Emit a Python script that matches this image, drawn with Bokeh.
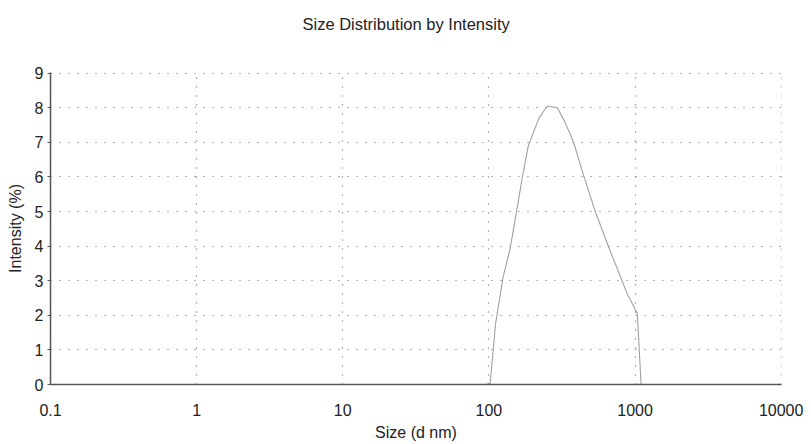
from bokeh.plotting import figure
from bokeh.models import FixedTicker, PrintfTickFormatter, Range1d, Title
from bokeh.embed import file_html
from bokeh.resources import INLINE

# Size distribution by intensity (DLS)
size_nm = [0.1, 1, 10, 50, 95, 102, 111, 125, 140, 156, 169, 186, 220, 251,
           294, 330, 378, 442, 534, 676, 885, 1036, 1100, 2000, 5000, 10000]
intensity_pct = [0, 0, 0, 0, 0, 0.03, 1.75, 3.1, 3.95, 5.1, 5.97, 6.9, 7.7, 8.05,
                 8.0, 7.6, 7.03, 6.08, 5.0, 3.86, 2.62, 2.05, 0, 0, 0, 0]

x_ticks = [0.1, 1, 10, 100, 1000, 10000]
y_ticks = [0, 1, 2, 3, 4, 5, 6, 7, 8, 9]

TITLE = "Size Distribution by Intensity"
FONT = "Liberation Sans"
TEXT_COLOR = "#222222"

p = figure(width=811, height=444, x_axis_type="log",
           x_range=Range1d(0.1, 10050), y_range=Range1d(0, 9.02),
           output_backend="svg", toolbar_location=None,
           min_border_left=50, min_border_right=30,
           min_border_top=72, min_border_bottom=60,
           title=None)

# blank band between the plot area and the heading
p.add_layout(Title(text=" ", text_font=FONT, text_font_size="16px",
                   standoff=20), "above")
# heading
p.add_layout(Title(text=TITLE, align="left", offset=252, standoff=2,
                   text_font=FONT, text_font_size="16.5px",
                   text_font_style="normal", text_color=TEXT_COLOR), "above")

p.outline_line_color = None
p.background_fill_color = "white"
p.border_fill_color = "white"

p.xaxis.ticker = FixedTicker(ticks=x_ticks)
p.xaxis.formatter = PrintfTickFormatter(format="%g")
p.yaxis.ticker = FixedTicker(ticks=y_ticks)

for ax in (p.xaxis[0], p.yaxis[0]):
    ax.axis_line_color = "#555555"
    ax.axis_line_width = 1.5
    ax.minor_tick_line_color = None
    ax.major_label_text_font = FONT
    ax.major_label_text_font_size = "16px"
    ax.major_label_text_color = TEXT_COLOR
    ax.axis_label_text_font = FONT
    ax.axis_label_text_font_size = "16px"
    ax.axis_label_text_font_style = "normal"
    ax.axis_label_text_color = TEXT_COLOR

p.xaxis.major_tick_line_color = None
p.xaxis.major_label_standoff = 13
p.xaxis.axis_label = "Size (d nm)"
p.xaxis.axis_label_standoff = 5

p.yaxis.major_tick_out = 3
p.yaxis.major_tick_in = 0
p.yaxis.major_tick_line_color = "#555555"
p.yaxis.major_label_standoff = 4
p.yaxis.axis_label = "Intensity (%)"
p.yaxis.axis_label_standoff = 8

for g in (p.xgrid[0], p.ygrid[0]):
    g.grid_line_color = "#666666"
    g.grid_line_dash = "1 8"
    g.grid_line_width = 1.2

p.line(size_nm, intensity_pct, line_color="#a0a0a0", line_width=1.1)

open("out.html", "w").write(file_html(p, INLINE))
